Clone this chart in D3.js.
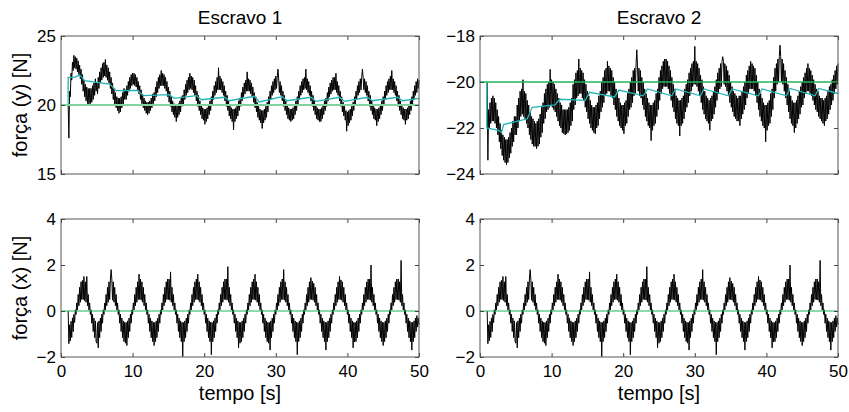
<!DOCTYPE html>
<html>
<head>
<meta charset="utf-8">
<script src="https://cdn.jsdelivr.net/npm/d3@7"></script>
<style>
  body { margin: 0; background: #fff; }
  svg text { font-family: Arial, "Liberation Sans", sans-serif; fill: #000; }
</style>
</head>
<body>
<svg id="chart" width="849" height="412"></svg>
<script>
var titles = ["Escravo 1", "Escravo 2"];
var xTicks = [0, 10, 20, 30, 40, 50];
var yTicksY1 = [15, 20, 25];
var yTicksY2 = [-24, -22, -20, -18];
var yTicksX = [-2, 0, 2, 4];

// measured force, one value every 0.1 s from t = 1 s (one row = 4 s)
var sampleStart = 1, sampleStep = 0.1;

var forceY1 = [
  20.0,17.6,21.0,20.6,22.3,21.8,23.1,22.5,23.6,22.7,23.5,22.6,23.4,22.4,23.2,22.2,22.9,21.9,22.6,21.5,22.2,21.0,21.8,20.6,21.5,20.3,21.3,20.1,21.2,20.0,21.2,20.1,21.2,20.2,21.4,20.4,21.6,20.7,21.9,21.0,
  21.6,20.8,22.0,21.2,22.4,21.6,22.7,21.8,23.0,22.0,23.1,22.1,23.3,22.0,22.9,21.8,22.7,21.6,22.4,21.2,22.0,20.8,21.6,20.4,21.2,20.0,20.9,19.8,20.6,19.6,20.5,19.4,20.5,19.5,20.6,19.8,20.9,20.0,21.2,20.4,
  21.1,20.4,21.4,20.7,21.7,21.0,22.0,21.2,22.2,21.4,22.3,21.5,22.3,21.4,22.2,21.3,22.0,21.1,21.7,20.8,21.4,20.4,21.1,20.1,20.8,19.8,20.5,19.6,20.3,19.4,20.2,19.3,20.2,19.4,20.3,19.6,20.5,19.8,20.8,20.1,
  20.9,20.3,21.3,20.6,21.7,20.9,22.0,21.2,22.2,21.4,22.5,21.4,22.3,21.4,22.2,21.2,22.0,21.0,21.7,20.6,21.3,20.2,21.0,19.9,20.6,19.5,20.3,19.3,20.1,19.1,20.0,18.8,20.0,19.1,20.1,19.3,20.3,19.5,20.6,19.9,
  20.7,20.0,21.1,20.4,21.5,20.7,21.8,20.9,22.0,21.1,22.3,21.2,22.1,21.1,22.0,20.9,21.8,20.7,21.4,20.3,21.0,19.9,20.7,19.6,20.3,19.3,20.0,19.0,19.8,18.9,19.7,18.6,19.7,18.8,19.8,19.0,20.0,19.3,20.3,19.6,
  20.6,20.0,21.0,20.4,21.4,20.7,21.7,20.9,22.0,21.1,22.7,21.1,22.1,21.1,21.9,20.9,21.7,20.7,21.4,20.3,21.0,19.9,20.7,19.6,20.3,19.2,20.0,19.0,19.8,18.8,19.7,18.2,19.7,18.8,19.8,19.0,20.0,19.2,20.3,19.6,
  20.5,19.9,20.9,20.3,21.3,20.6,21.6,20.8,21.8,21.0,22.4,21.0,21.9,21.0,21.8,20.8,21.6,20.6,21.3,20.2,20.9,19.8,20.6,19.5,20.2,19.1,19.9,18.9,19.7,18.7,19.6,18.3,19.6,18.7,19.7,18.9,19.9,19.1,20.2,19.5,
  20.6,20.0,21.0,20.4,21.4,20.7,21.7,20.9,21.9,21.1,22.1,21.2,22.0,22.6,21.9,20.9,21.7,20.7,21.4,20.3,21.0,19.9,20.7,19.6,20.3,19.3,20.0,19.0,19.8,18.9,19.7,18.8,19.7,18.9,19.8,19.0,20.0,19.3,20.3,19.6,
  20.6,20.0,21.0,20.4,21.4,20.7,21.7,20.9,21.9,21.1,22.0,21.2,22.6,21.1,21.9,20.9,21.7,20.7,21.4,20.3,21.0,19.9,20.7,19.6,20.3,19.3,20.0,19.0,19.8,18.9,19.7,18.8,19.7,18.8,19.8,19.0,20.0,19.3,20.3,19.6,
  20.5,19.9,20.9,20.3,21.3,20.6,21.6,20.8,21.8,21.0,22.0,21.1,22.0,21.1,22.3,20.9,21.7,20.7,21.4,20.3,21.0,19.9,20.6,19.5,20.2,19.2,19.9,18.9,19.6,18.1,19.5,18.5,19.6,18.7,19.7,18.9,19.9,19.2,20.2,19.6,
  20.6,20.0,21.0,20.4,21.4,20.7,21.7,20.9,21.9,21.1,22.0,22.6,22.0,21.1,21.9,20.9,21.7,20.7,21.4,20.3,21.0,19.9,20.7,19.6,20.3,19.3,20.0,19.0,19.8,18.9,19.7,18.5,19.7,18.8,19.8,19.0,20.0,19.3,20.3,19.6,
  20.6,20.0,21.0,20.4,21.4,20.7,21.7,20.9,21.9,21.1,22.1,21.1,22.5,21.1,21.9,20.9,21.7,20.7,21.4,20.3,21.0,19.9,20.7,19.6,20.3,19.3,20.0,19.0,19.8,18.9,19.7,18.6,19.7,18.9,19.8,19.0,20.0,19.3,20.3,19.6,
  20.6,20.0,21.0,20.4,21.4,20.7,21.7,20.9,21.9,21.2,21.8
];

var forceY2 = [
  -20.0,-23.4,-21.2,-22.0,-20.9,-21.8,-20.7,-21.7,-20.6,-21.7,-20.7,-21.8,-20.9,-22.0,-21.2,-22.3,-21.5,-22.6,-21.8,-22.9,-22.1,-23.2,-22.3,-23.4,-22.4,-23.5,-22.5,-23.6,-22.5,-23.5,-22.4,-23.3,-22.2,-23.1,-22.0,-22.8,-21.7,-22.6,-21.5,-22.3,
  -21.5,-22.3,-21.0,-22.0,-20.7,-21.7,-20.4,-21.5,-20.3,-21.4,-19.9,-21.5,-20.4,-21.6,-20.5,-21.8,-20.8,-22.0,-21.0,-22.3,-21.3,-22.5,-21.5,-22.7,-21.6,-22.8,-21.7,-22.8,-21.8,-22.9,-21.7,-22.8,-21.6,-22.7,-21.4,-22.4,-21.1,-22.2,-20.9,-21.8,
  -20.5,-21.6,-20.3,-21.3,-20.1,-21.2,-20.0,-21.1,-19.45,-21.0,-19.9,-21.1,-20.0,-21.2,-20.1,-21.3,-20.3,-21.5,-20.5,-21.7,-20.7,-21.9,-20.9,-22.0,-21.0,-22.2,-21.2,-22.25,-21.2,-22.3,-21.2,-22.25,-21.2,-22.2,-21.1,-22.1,-20.9,-21.9,-20.7,-21.7,
  -20.1,-21.2,-19.9,-21.0,-19.6,-20.7,-19.5,-20.6,-19.0,-20.5,-19.4,-20.5,-19.5,-20.7,-19.6,-20.8,-19.9,-21.1,-20.1,-21.3,-20.4,-21.6,-20.6,-21.8,-20.8,-22.0,-21.0,-22.1,-21.1,-22.2,-21.1,-22.25,-21.0,-22.0,-20.9,-21.9,-20.6,-21.6,-20.4,-21.3,
  -20.0,-21.1,-19.8,-20.9,-19.5,-20.6,-19.4,-20.5,-19.1,-20.4,-19.3,-20.4,-19.4,-20.6,-19.5,-20.7,-19.8,-21.0,-20.0,-21.2,-20.3,-21.5,-20.5,-21.7,-20.7,-21.9,-20.9,-22.0,-21.0,-22.1,-21.0,-22.25,-20.9,-21.9,-20.8,-21.8,-20.5,-21.5,-20.3,-21.2,
  -20.0,-21.1,-19.8,-20.9,-19.5,-20.6,-19.4,-20.5,-19.2,-18.6,-19.3,-20.4,-19.4,-20.6,-19.5,-20.7,-19.8,-21.0,-20.0,-21.2,-20.3,-21.5,-20.5,-21.7,-20.7,-21.9,-20.9,-22.0,-21.0,-22.55,-21.0,-22.1,-20.9,-21.9,-20.8,-21.8,-20.5,-21.5,-20.3,-21.2,
  -19.8,-20.8,-19.5,-20.5,-19.3,-20.3,-19.1,-20.2,-19.0,-20.2,-19.0,-20.2,-19.1,-20.3,-19.3,-20.5,-19.5,-20.8,-19.8,-21.1,-20.1,-21.3,-20.3,-21.6,-20.6,-21.8,-20.7,-21.9,-20.8,-22.35,-20.8,-21.9,-20.7,-21.8,-20.6,-21.6,-20.3,-21.3,-20.1,-21.1,
  -19.9,-20.9,-19.6,-20.6,-19.4,-20.4,-19.2,-20.2,-19.1,-20.1,-18.45,-20.1,-19.1,-20.2,-19.2,-20.4,-19.4,-20.6,-19.7,-20.9,-19.9,-21.2,-20.2,-21.4,-20.4,-21.6,-20.6,-21.7,-20.7,-21.8,-20.8,-22.1,-20.7,-21.7,-20.6,-21.6,-20.4,-21.4,-20.2,-21.1,
  -19.9,-20.8,-19.6,-20.5,-19.4,-20.3,-19.2,-20.2,-19.1,-18.9,-19.1,-20.1,-19.2,-20.2,-19.3,-20.4,-19.5,-20.6,-19.7,-20.9,-20.0,-21.1,-20.2,-21.3,-20.4,-21.5,-20.5,-21.6,-20.6,-21.7,-20.7,-21.7,-20.6,-21.9,-20.6,-21.6,-20.4,-21.4,-20.2,-21.2,
  -20.0,-21.0,-19.7,-20.7,-19.5,-20.5,-19.3,-20.3,-19.1,-20.3,-19.2,-20.3,-19.3,-20.4,-19.4,-20.6,-19.7,-20.9,-20.0,-21.2,-20.3,-21.5,-20.5,-21.7,-20.7,-21.9,-20.9,-22.0,-21.0,-22.6,-21.0,-22.1,-20.9,-21.9,-20.8,-21.8,-20.5,-21.5,-20.3,-21.2,
  -19.8,-20.7,-19.4,-20.4,-19.2,-20.1,-19.0,-20.0,-18.9,-18.4,-18.9,-20.0,-19.0,-20.1,-19.2,-20.4,-19.5,-20.7,-19.8,-21.0,-20.1,-21.3,-20.4,-21.6,-20.6,-21.8,-20.8,-21.9,-20.9,-22.2,-20.9,-22.0,-20.8,-21.8,-20.6,-21.6,-20.4,-21.4,-20.2,-21.1,
  -20.0,-21.0,-19.8,-20.7,-19.6,-20.5,-19.4,-20.4,-19.2,-20.4,-19.4,-20.5,-19.5,-20.6,-19.7,-20.8,-19.9,-21.0,-20.1,-21.2,-20.3,-21.3,-20.4,-21.5,-20.6,-21.6,-20.7,-21.7,-20.7,-21.8,-20.8,-21.9,-20.7,-21.7,-20.6,-21.6,-20.4,-21.4,-20.2,-21.2,
  -20.1,-21.0,-19.9,-20.8,-19.7,-20.5,-19.5,-20.3,-19.3,-20.1,-19.2
];

// x force looks the same for both slaves
var forceX = [
  0.0,-1.42,-0.6,-1.3,-0.45,-1.15,-0.3,-0.9,-0.15,-0.5,0.05,-0.15,0.35,0.05,0.72,0.23,1.03,0.38,1.27,0.5,1.33,0.5,1.5,0.45,1.27,0.38,1.5,0.23,0.72,0.05,0.35,-0.15,0.05,-0.53,-0.14,-0.89,-0.31,-1.16,-0.43,-1.33,
  -1.4,-0.5,-1.6,-0.43,-1.16,-0.31,-0.89,-0.14,-0.53,0.05,-0.15,0.35,0.05,0.72,0.23,1.03,0.38,1.27,0.5,1.39,1.8,1.39,0.47,1.27,0.38,1.03,0.23,0.72,0.05,0.35,-0.15,0.05,-0.53,-0.14,-0.89,-0.31,-1.16,-0.43,-1.33,-0.49,
  -1.4,-0.5,-1.5,-0.43,-1.16,-0.31,-0.89,-0.14,-0.53,0.05,-0.15,0.35,0.05,0.72,0.23,1.03,0.38,1.27,0.5,1.6,0.5,1.39,0.47,1.27,0.38,1.03,0.23,0.72,0.05,0.35,-0.15,0.05,-0.53,-0.14,-0.89,-0.31,-1.16,-0.43,-1.33,-0.49,
  -1.5,-0.5,-1.33,-0.43,-1.16,-0.31,-0.89,-0.14,-0.53,0.05,-0.15,0.35,0.05,0.72,0.23,1.03,0.38,1.27,0.5,1.39,0.5,1.39,0.47,1.7,0.38,1.03,0.23,0.72,0.05,0.35,-0.15,0.05,-0.53,-0.14,-0.89,-0.31,-1.16,-0.43,-1.33,-0.49,
  -1.98,-0.5,-1.33,-0.43,-1.16,-0.31,-0.89,-0.14,-0.53,0.05,-0.15,0.35,0.05,0.72,0.23,1.03,0.38,1.27,0.5,1.39,0.5,1.6,0.47,1.27,0.38,1.03,0.23,0.72,0.05,0.35,-0.15,0.05,-0.53,-0.14,-0.89,-0.31,-1.16,-0.43,-1.33,-0.49,
  -1.9,-0.5,-1.33,-0.43,-1.16,-0.31,-0.89,-0.14,-0.53,0.05,-0.15,0.35,0.05,0.72,0.23,1.03,0.38,1.27,0.5,1.39,0.5,1.39,0.47,1.93,0.38,1.03,0.23,0.72,0.05,0.35,-0.15,0.05,-0.53,-0.14,-0.89,-0.31,-1.16,-0.43,-1.6,-0.49,
  -1.4,-0.5,-1.33,-0.43,-1.16,-0.31,-0.89,-0.14,-0.53,0.05,-0.15,0.35,0.05,0.72,0.23,1.03,0.38,1.27,0.5,1.39,0.5,1.6,0.47,1.27,0.38,1.03,0.23,0.72,0.05,0.35,-0.15,0.05,-0.53,-0.14,-0.89,-0.31,-1.16,-0.43,-1.33,-0.49,
  -1.4,-0.5,-1.7,-0.43,-1.16,-0.31,-0.89,-0.14,-0.53,0.05,-0.15,0.35,0.05,0.72,0.23,1.03,0.38,1.27,0.5,1.39,0.5,1.8,0.47,1.27,0.38,1.03,0.23,0.72,0.05,0.35,-0.15,0.05,-0.53,-0.14,-0.89,-0.31,-1.16,-0.43,-1.33,-0.49,
  -1.9,-0.5,-1.33,-0.43,-1.16,-0.31,-0.89,-0.14,-0.53,0.05,-0.15,0.35,0.05,0.72,0.23,1.03,0.38,1.27,0.5,1.45,0.5,1.3,0.47,1.2,0.38,1.03,0.23,0.72,0.05,0.35,-0.15,0.05,-0.53,-0.14,-0.89,-0.31,-1.16,-0.43,-1.33,-0.49,
  -1.7,-0.5,-1.33,-0.43,-1.16,-0.31,-0.89,-0.14,-0.53,0.05,-0.15,0.35,0.05,0.72,0.23,1.03,0.38,1.27,0.5,1.5,0.5,1.35,0.47,1.27,0.38,1.03,0.23,0.72,0.05,0.35,-0.15,0.05,-0.53,-0.14,-0.89,-0.31,-1.16,-0.43,-1.6,-0.49,
  -1.35,-0.5,-1.33,-0.43,-1.16,-0.31,-0.89,-0.14,-0.53,0.05,-0.15,0.35,0.05,0.72,0.23,1.03,0.38,1.27,0.5,1.39,0.5,1.39,0.47,2.0,0.38,1.03,0.23,0.72,0.05,0.35,-0.15,0.05,-0.53,-0.14,-0.89,-0.31,-1.16,-0.43,-1.33,-0.49,
  -1.5,-0.5,-1.33,-0.43,-1.16,-0.31,-0.89,-0.14,-0.53,0.05,-0.15,0.35,0.05,0.72,0.23,1.03,0.38,1.27,0.5,1.39,0.5,1.39,0.47,1.27,0.38,2.2,0.23,0.72,0.05,0.35,-0.15,0.05,-0.53,-0.14,-0.89,-0.31,-1.16,-0.43,-1.33,-0.49,
  -1.7,-0.5,-1.33,-0.43,-1.16,-0.31,-0.89,-0.2,-0.7,-0.3,-0.6
];

// estimated force (cyan), break points
var estY1Time = [1.0,1.0,1.9,2.6,3.3,6.8,7.7,10.7,11.5,15.1,15.8,18.9,19.6,22.8,23.5,27.0,27.7,30.9,31.6,34.9,35.6,38.9,39.6,42.8,43.5,47.0,47.7,50];
var estY1 = [20.0,22.0,22.0,22.17,21.76,21.52,21.04,21.05,20.68,20.75,20.48,20.68,20.38,20.56,20.31,20.63,20.22,20.6,20.31,20.56,20.27,20.56,20.27,20.56,20.31,20.56,20.31,20.48];
var estY2Time = [0.95,0.95,2.6,3.0,3.3,6.6,7.3,10.5,11.1,14.7,15.3,18.8,19.4,22.8,23.4,26.8,27.3,30.8,31.3,34.7,35.2,38.9,39.4,42.8,43.3,46.8,47.3,50];
var estY2 = [-20.0,-22.0,-22.1,-22.2,-21.85,-21.6,-21.1,-21.0,-20.75,-20.8,-20.45,-20.65,-20.35,-20.6,-20.3,-20.6,-20.3,-20.6,-20.3,-20.6,-20.3,-20.6,-20.3,-20.6,-20.28,-20.6,-20.28,-20.5];

// desired force (green)
var refY1 = 20, refY2 = -20, refX = 0;

var svg = d3.select("#chart");
var plotW = 358, plotH = 138;
var tickLen = 4;

function toPoints(values){
  return values.map(function(v, i){ return [sampleStart + i*sampleStep, v]; });
}
function zip(ts, vs){
  return ts.map(function(t, i){ return [t, vs[i]]; });
}

function drawPanel(o){
  var g = svg.append("g").attr("transform", "translate(" + o.left + "," + o.top + ")");
  var x = d3.scaleLinear().domain([0, 50]).range([0, plotW]);
  var y = d3.scaleLinear().domain(o.domain).range([plotH, 0]);

  var line = d3.line()
    .x(function(d){ return x(d[0]); })
    .y(function(d){ return y(d[1]); });

  // black measured signal
  g.append("path")
    .datum(toPoints(o.signal))
    .attr("d", line)
    .attr("fill", "none")
    .attr("stroke", "#000")
    .attr("stroke-width", 1);

  if(o.est){
    g.append("path")
      .datum(o.est)
      .attr("d", line)
      .attr("fill", "none")
      .attr("stroke", "#22b4b4")
      .attr("stroke-width", 1.3);
  }

  g.append("path")
    .datum([[0, o.ref], [50, o.ref]])
    .attr("d", line)
    .attr("fill", "none")
    .attr("stroke", o.refColor)
    .attr("stroke-width", o.refWidth);

  // axes, ticks pointing inward like matlab
  var fmt = d3.format("d");
  var left = g.append("g")
    .call(d3.axisLeft(y).tickValues(o.yTicks).tickSizeInner(-tickLen).tickSizeOuter(0).tickPadding(5).tickFormat(fmt));
  var right = g.append("g").attr("transform", "translate(" + plotW + ",0)")
    .call(d3.axisRight(y).tickValues(o.yTicks).tickSizeInner(-tickLen).tickSizeOuter(0).tickFormat(""));
  var bottom = g.append("g").attr("transform", "translate(0," + plotH + ")")
    .call(d3.axisBottom(x).tickValues(xTicks).tickSizeInner(-tickLen).tickSizeOuter(0).tickPadding(8)
      .tickFormat(o.xLabels ? fmt : ""));
  var top = g.append("g")
    .call(d3.axisTop(x).tickValues(xTicks).tickSizeInner(-tickLen).tickSizeOuter(0).tickFormat(""));

  [left, right, bottom, top].forEach(function(a){
    a.select(".domain").remove();
    a.selectAll("line").attr("stroke", "#444");
    a.selectAll("text").attr("font-size", 17).attr("font-family", "Arial, 'Liberation Sans', sans-serif").attr("fill", "#000");
  });

  g.append("rect")
    .attr("width", plotW).attr("height", plotH)
    .attr("fill", "none")
    .attr("stroke", "#555")
    .attr("stroke-width", 1);

  if(o.title){
    g.append("text")
      .attr("x", plotW/2).attr("y", -12)
      .attr("text-anchor", "middle")
      .attr("font-size", 19)
      .text(o.title);
  }
  if(o.yLabel){
    g.append("text")
      .attr("transform", "translate(" + (-34) + "," + (plotH/2) + ") rotate(-90)")
      .attr("text-anchor", "middle")
      .attr("font-size", 20)
      .text(o.yLabel);
  }
  if(o.xLabels){
    g.append("text")
      .attr("x", plotW/2).attr("y", plotH + 43)
      .attr("text-anchor", "middle")
      .attr("font-size", 20)
      .text("tempo [s]");
  }
}

drawPanel({left: 61, top: 36, domain: [15, 25], yTicks: yTicksY1, signal: forceY1,
  est: zip(estY1Time, estY1), ref: refY1, refColor: "#7fd3a0", refWidth: 2,
  title: titles[0], yLabel: "força (y) [N]", xLabels: false});
drawPanel({left: 480, top: 36, domain: [-24, -18], yTicks: yTicksY2, signal: forceY2,
  est: zip(estY2Time, estY2), ref: refY2, refColor: "#20b45a", refWidth: 1.4,
  title: titles[1], xLabels: false});
drawPanel({left: 61, top: 219, domain: [-2, 4], yTicks: yTicksX, signal: forceX,
  ref: refX, refColor: "#20b45a", refWidth: 1.2,
  yLabel: "força (x) [N]", xLabels: true});
drawPanel({left: 480, top: 219, domain: [-2, 4], yTicks: yTicksX, signal: forceX,
  ref: refX, refColor: "#20b45a", refWidth: 1.2,
  xLabels: true});
</script>
</body>
</html>
